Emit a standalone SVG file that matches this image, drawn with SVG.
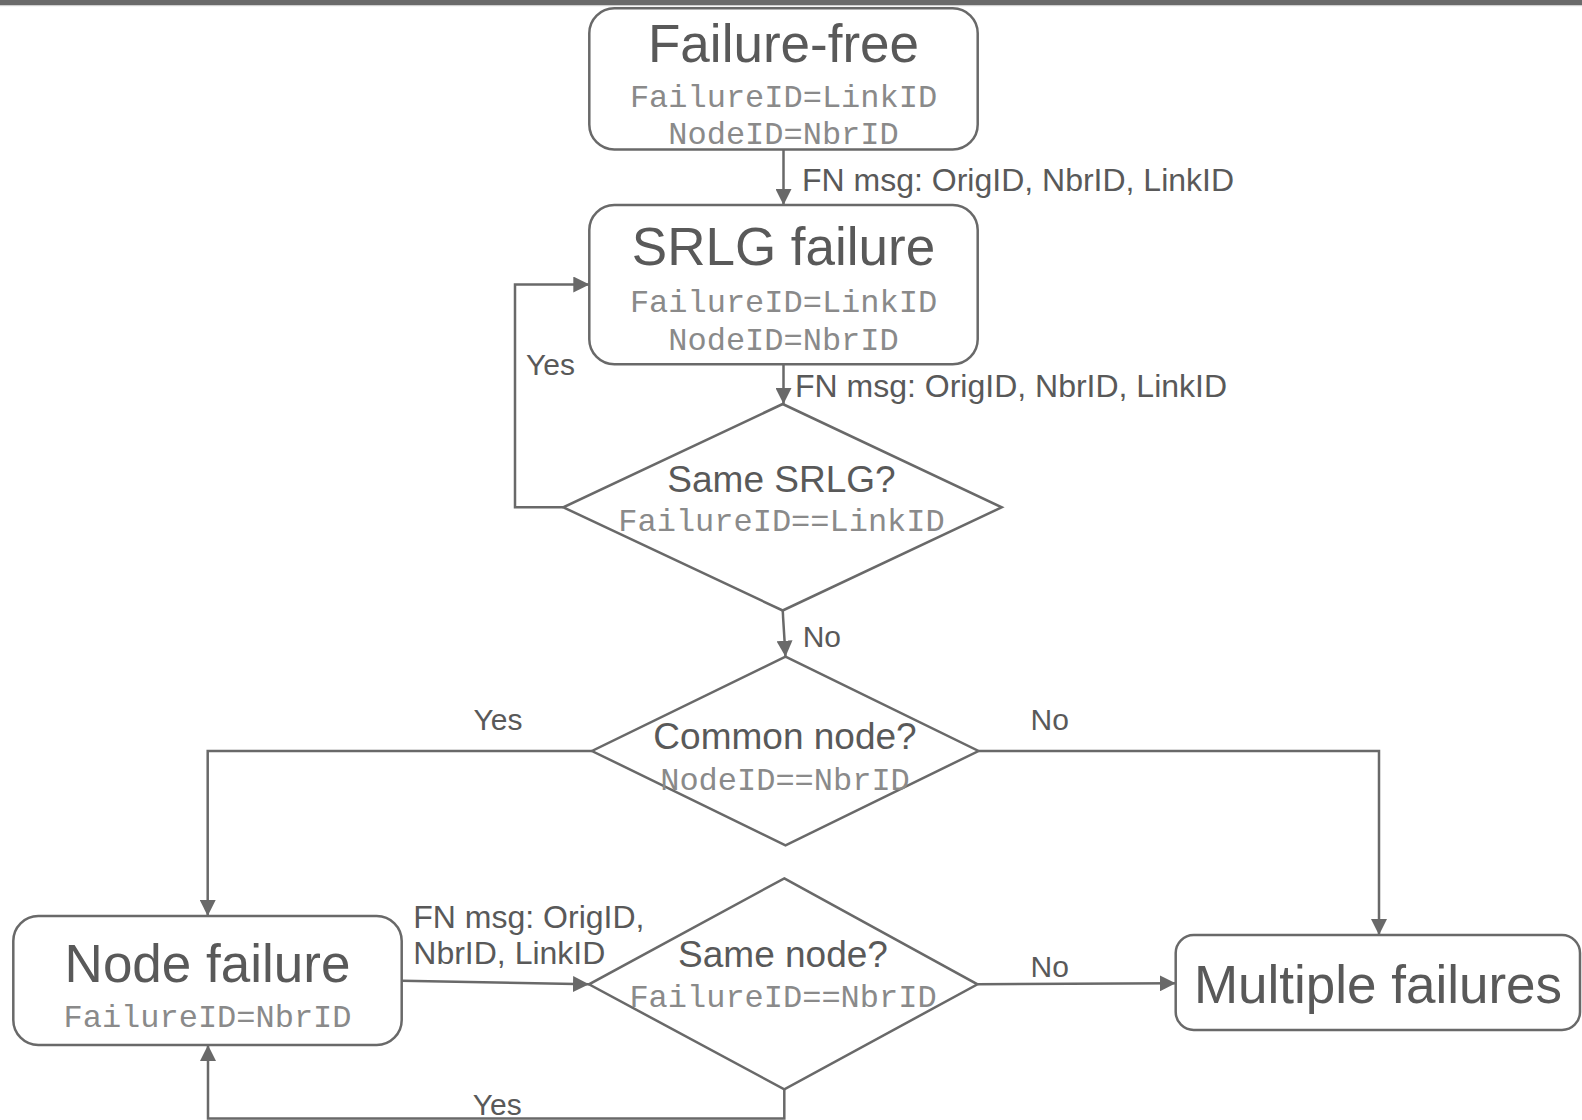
<svg xmlns="http://www.w3.org/2000/svg" width="1582" height="1120" viewBox="0 0 1582 1120">
  <style>
    .box { fill: #ffffff; stroke: #696969; stroke-width: 2.5; }
    .title { font-family: "Liberation Sans", Arial, sans-serif; font-size: 53px; fill: #595959; text-anchor: middle; }
    .q { font-family: "Liberation Sans", Arial, sans-serif; font-size: 37px; fill: #595959; text-anchor: middle; }
    .mono { font-family: "Liberation Mono", "Courier New", monospace; font-size: 32px; fill: #8a8a8a; text-anchor: middle; }
    .lbl { font-family: "Liberation Sans", Arial, sans-serif; font-size: 32px; fill: #595959; }
    .yn { font-family: "Liberation Sans", Arial, sans-serif; font-size: 30px; fill: #595959; }
    .edge { fill: none; stroke: #696969; stroke-width: 2.5; }
  </style>
  <defs>
    <marker id="arrow" markerUnits="userSpaceOnUse" markerWidth="16" markerHeight="16" refX="16" refY="8" orient="auto">
      <path d="M0,0 L16,8 L0,16 z" fill="#696969"/>
    </marker>
  </defs>

  <!-- header strip -->
  <rect x="0" y="0" width="1582" height="5" fill="#6a6a6a"/>
  <rect x="0" y="5" width="1582" height="1.2" fill="#cfcfcf"/>

  <!-- connectors -->
  <g id="connectors">
    <path class="edge" d="M783.5,150 L783.5,205" marker-end="url(#arrow)"/>
    <path class="edge" d="M783.5,364.5 L783.5,404" marker-end="url(#arrow)"/>
    <path class="edge" d="M563.3,507.3 L515,507.3 L515,284.5 L589.3,284.5" marker-end="url(#arrow)"/>
    <path class="edge" d="M782.7,610.5 L785.5,656.7" marker-end="url(#arrow)"/>
    <path class="edge" d="M592,751 L207.7,751 L207.7,916" marker-end="url(#arrow)"/>
    <path class="edge" d="M978.5,751 L1379,751 L1379,935" marker-end="url(#arrow)"/>
    <path class="edge" d="M401.7,980.7 L589,984.3" marker-end="url(#arrow)"/>
    <path class="edge" d="M977.5,984.3 L1175.7,983.3" marker-end="url(#arrow)"/>
    <path class="edge" d="M784.3,1089.5 L784.3,1118.5 L208,1118.5 L208,1045" marker-end="url(#arrow)"/>

    <text class="lbl" x="802" y="191">FN msg: OrigID, NbrID, LinkID</text>
    <text class="lbl" x="795" y="397">FN msg: OrigID, NbrID, LinkID</text>
    <text class="yn" x="526" y="375">Yes</text>
    <text class="yn" x="802.7" y="647">No</text>
    <text class="yn" x="473.5" y="730">Yes</text>
    <text class="yn" x="1030.6" y="730">No</text>
    <text class="lbl" x="413.3" y="928">FN msg: OrigID,</text>
    <text class="lbl" x="413.3" y="964">NbrID, LinkID</text>
    <text class="yn" x="1030.6" y="977">No</text>
    <text class="yn" x="472.7" y="1115">Yes</text>
  </g>

  <!-- states -->
  <g id="failure-free">
    <rect class="box" x="589.3" y="8.3" width="388.4" height="141.2" rx="25"/>
    <text class="title" x="783.5" y="62">Failure-free</text>
    <text class="mono" x="783.5" y="107">FailureID=LinkID</text>
    <text class="mono" x="783.5" y="144">NodeID=NbrID</text>
  </g>

  <g id="srlg-failure">
    <rect class="box" x="589.3" y="205" width="388.4" height="159.3" rx="25"/>
    <text class="title" x="783.5" y="265">SRLG failure</text>
    <text class="mono" x="783.5" y="312">FailureID=LinkID</text>
    <text class="mono" x="783.5" y="350">NodeID=NbrID</text>
  </g>

  <g id="node-failure">
    <rect class="box" x="13.3" y="916" width="388.4" height="129" rx="25"/>
    <text class="title" x="207.5" y="981.5">Node failure</text>
    <text class="mono" x="207.5" y="1027">FailureID=NbrID</text>
  </g>

  <g id="multiple-failures">
    <rect class="box" x="1175.7" y="935" width="404.3" height="95" rx="18"/>
    <text class="title" x="1378" y="1003">Multiple failures</text>
  </g>

  <!-- decisions -->
  <g id="same-srlg">
    <polygon class="box" points="782.7,404 1001.7,507.3 782.7,610.5 563.3,507.3"/>
    <text class="q" x="781.5" y="491.5">Same SRLG?</text>
    <text class="mono" x="781.5" y="531">FailureID==LinkID</text>
  </g>

  <g id="common-node">
    <polygon class="box" points="785.5,656.7 978.5,751 785.5,845.3 592,751" style="fill:none"/>
    <text class="q" x="785" y="749">Common node?</text>
    <text class="mono" x="785" y="790">NodeID==NbrID</text>
  </g>

  <g id="same-node">
    <polygon class="box" points="784.3,878.3 977.5,984.3 784.3,1089.3 589,984.3" style="fill:none"/>
    <text class="q" x="783" y="967">Same node?</text>
    <text class="mono" x="783" y="1006.5">FailureID==NbrID</text>
  </g>
</svg>
